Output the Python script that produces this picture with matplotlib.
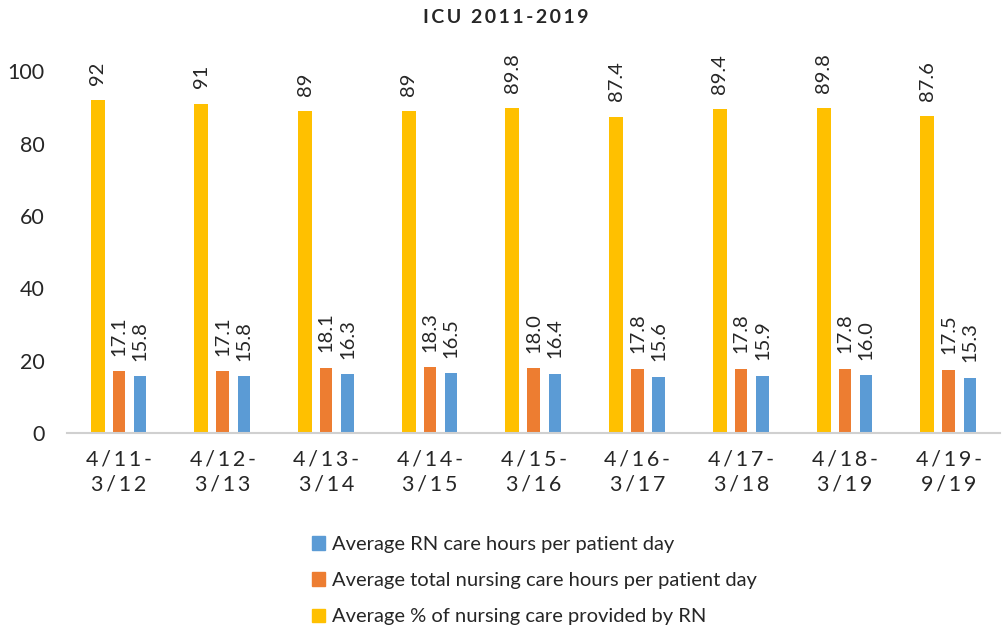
import numpy as np
import matplotlib
matplotlib.use("Agg")
import matplotlib.pyplot as plt
from matplotlib.patches import Patch

plt.rcParams['font.family'] = ['Lato', 'DejaVu Sans']

periods = ["4/11-3/12", "4/12-3/13", "4/13-3/14", "4/14-3/15", "4/15-3/16",
           "4/16-3/17", "4/17-3/18", "4/18-3/19", "4/19-9/19"]
pct_rn = [92, 91, 89, 89, 89.8, 87.4, 89.4, 89.8, 87.6]
pct_rn_labels = ["92", "91", "89", "89", "89.8", "87.4", "89.4", "89.8", "87.6"]
total_hours = [17.1, 17.1, 18.1, 18.3, 18.0, 17.8, 17.8, 17.8, 17.5]
rn_hours = [15.8, 15.8, 16.3, 16.5, 16.4, 15.6, 15.9, 16.0, 15.3]

names = ["Average RN care hours per patient day",
         "Average total nursing care hours per patient day",
         "Average % of nursing care provided by RN"]
c_yellow, c_orange, c_blue = "#FFC000", "#ED7D31", "#5B9BD5"

TS = "\u2009"  # thin space to mimic letter spacing


def spaced(s):
    return TS.join(s)


fig = plt.figure(figsize=(10.07, 6.35), dpi=100)
ax = fig.add_axes([0.0665, 0.318, 0.927, 0.570])

x = np.arange(len(periods))
step = 0.205
bars_y = ax.bar(x - step, pct_rn, width=0.135, color=c_yellow)
bars_o = ax.bar(x, total_hours, width=0.12, color=c_orange)
bars_b = ax.bar(x + step, rn_hours, width=0.12, color=c_blue)

def label(bars, texts):
    for b, t in zip(bars, texts):
        ax.annotate(t, (b.get_x() + b.get_width() / 2, b.get_height()),
                    xytext=(0, 11), textcoords="offset points",
                    rotation=90, ha="center", va="bottom",
                    fontsize=14.5, color="#262626", annotation_clip=False)

label(bars_y, pct_rn_labels)
label(bars_o, [f"{v:.1f}" for v in total_hours])
label(bars_b, [f"{v:.1f}" for v in rn_hours])

ax.set_xlim(-0.5, len(periods) - 0.5)
ax.set_ylim(0, 100)
ax.set_yticks(range(0, 101, 20))
ax.set_xticks(x)
ax.set_xticklabels([spaced(p.split("-")[0] + "-") + "\n" + spaced(p.split("-")[1])
                    for p in periods], fontsize=15.5, color="#262626", linespacing=1.3)
ax.tick_params(axis="y", length=0, labelsize=15.5, labelcolor="#262626", pad=16)
ax.tick_params(axis="x", length=0, pad=12)
for s in ["top", "right", "left"]:
    ax.spines[s].set_visible(False)
ax.spines["bottom"].set_color("#d0d0d0")
ax.spines["bottom"].set_linewidth(1.5)

fig.text(0.502, 0.972, spaced("ICU 2011-2019"), ha="center", va="center",
         fontsize=14, fontweight="bold", color="#262626")

handles = [Patch(color=c_blue), Patch(color=c_orange), Patch(color=c_yellow)]
fig.legend(handles, names, loc="upper left",
           bbox_to_anchor=(0.302, 1 - 528 / 635),
           bbox_transform=fig.transFigure, frameon=False, fontsize=14.5,
           handlelength=0.65, handleheight=0.65, handletextpad=0.35,
           labelspacing=0.95, labelcolor="#262626", borderaxespad=0)

fig.savefig("out.png", dpi=100)
